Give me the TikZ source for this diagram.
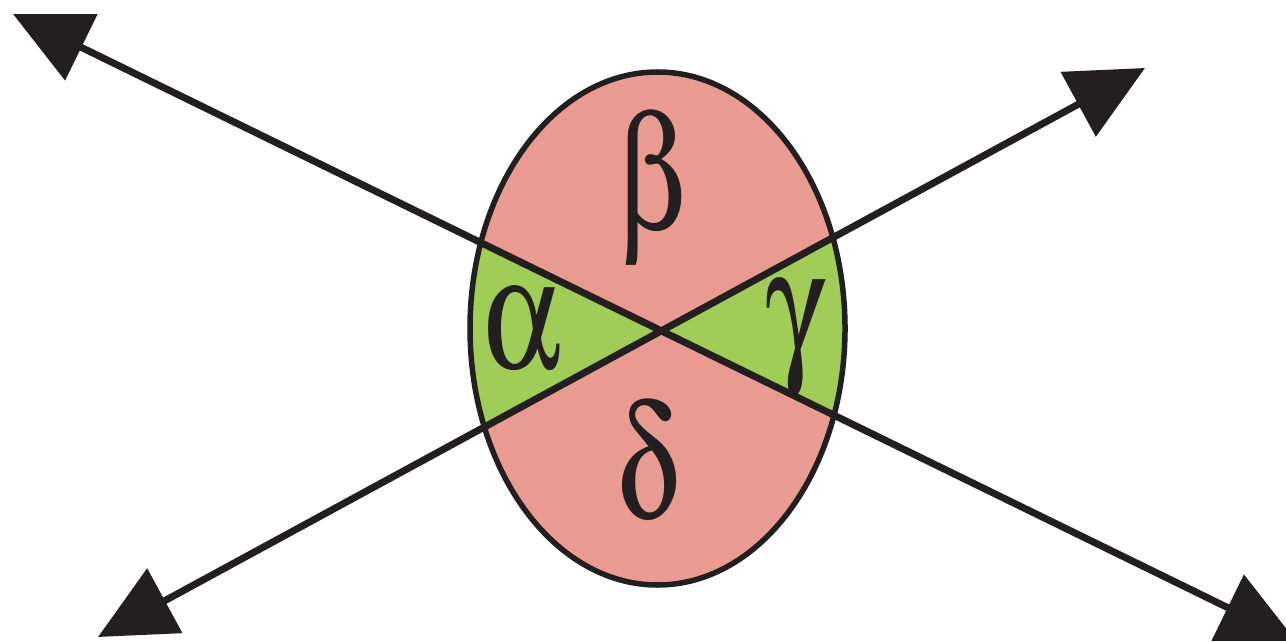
\documentclass[tikz,border=0pt]{standalone}
\usepackage[Symbol]{upgreek}
\usetikzlibrary{arrows.meta}
\definecolor{sectorpink}{HTML}{EA9B91}
\definecolor{sectorgreen}{HTML}{A0CC58}
\definecolor{inkblack}{HTML}{231F20}
\newcommand{\narrowgreek}[1]{\scalebox{0.76}[1]{$#1$}}

\begin{document}
\begin{tikzpicture}[x=0.01cm, y=-0.01cm, >={Triangle[length=0.76cm, width=0.72cm]},
    angle label/.style={font=\fontsize{46}{50}\selectfont, text=inkblack, inner sep=0pt}]

    \useasboundingbox (0,0) rectangle (1286,643);
    \clip (0,0) rectangle (1286,643);

    % Points
    \coordinate (O) at (660,331);
    \coordinate (E) at (657.5,328.5);
    \coordinate (A1) at (13,14);
    \coordinate (A2) at (1296,641);
    \coordinate (B1) at (98,637);
    \coordinate (B2) at (1145,68);

    % Ellipse with the two green angles
    \fill[sectorpink] (E) ellipse [x radius=187.5, y radius=256.5];
    \begin{scope}
        \clip (E) ellipse [x radius=187.5, y radius=256.5];
        \fill[sectorgreen] (O) -- (A1) -- (B1) -- cycle;
        \fill[sectorgreen] (O) -- (B2) -- (A2) -- cycle;
    \end{scope}
    \draw[inkblack, line width=0.055cm] (E) ellipse [x radius=187.5, y radius=256.5];

    % Lines
    \draw[<->, inkblack, line width=0.07cm] (A1) -- (A2);
    \draw[<->, inkblack, line width=0.07cm] (B1) -- (B2);

    % Labels
    \node[angle label] (beta) at (652,189) {\narrowgreek{\upbeta}};
    \node[angle label] (alpha) at (522,329) {\narrowgreek{\upalpha}};
    \node[angle label] (gamma) at (796,338) {\narrowgreek{\upgamma}};
    \node[angle label] (delta) at (648,462) {\narrowgreek{\updelta}};

\end{tikzpicture}
\end{document}
